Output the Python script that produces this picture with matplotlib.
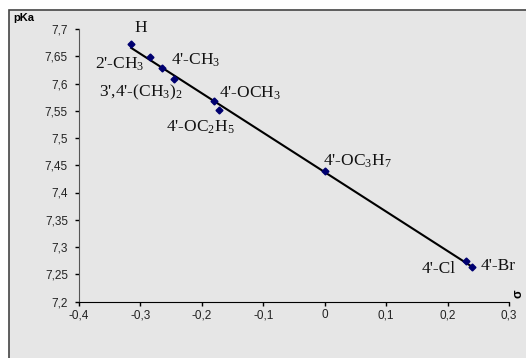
import matplotlib
matplotlib.use('Agg')
import matplotlib.pyplot as plt
from matplotlib.patches import Rectangle
import numpy as np

plt.rcParams['mathtext.fontset'] = 'custom'
plt.rcParams['mathtext.rm'] = 'Liberation Serif'
plt.rcParams['mathtext.it'] = 'Liberation Serif'

# data
sigma = [-0.315, -0.284, -0.265, -0.245, -0.181, -0.172, 0.0, 0.23, 0.24]
pka = [7.672, 7.649, 7.629, 7.609, 7.568, 7.551, 7.439, 7.274, 7.263]

# labels and where they sit (data coords, left edge / baseline)
labels = ['H', "2'-CH$_3$", "4'-CH$_3$", "3',4'-(CH$_3$)$_2$", "4'-OCH$_3$",
          "4'-OC$_2$H$_5$", "4'-OC$_3$H$_7$", "4'-Cl", "4'-Br"]
label_x = [-0.309, -0.374, -0.250, -0.367, -0.172, -0.258, -0.003, 0.158, 0.2545]
label_y = [7.694, 7.628, 7.634, 7.576, 7.574, 7.512, 7.450, 7.253, 7.257]

xticks = [-0.4, -0.3, -0.2, -0.1, 0, 0.1, 0.2, 0.3]
xtick_labels = ['-0,4', '-0,3', '-0,2', '-0,1', '0', '0,1', '0,2', '0,3']
yticks = [7.2, 7.25, 7.3, 7.35, 7.4, 7.45, 7.5, 7.55, 7.6, 7.65, 7.7]
ytick_labels = ['7,2', '7,25', '7,3', '7,35', '7,4', '7,45', '7,5',
                '7,55', '7,6', '7,65', '7,7']

bg = '#e6e6e6'
fig = plt.figure(figsize=(5.26, 3.58), dpi=100, facecolor='white')
# chart area with dark border on top and left
fig.patches.append(Rectangle((9 / 526, -0.1), 1.2, 1 - 10 / 358 + 0.1,
                             transform=fig.transFigure, facecolor=bg,
                             edgecolor='#444444', linewidth=1.2, zorder=-10))

ax = fig.add_axes([79 / 526, 1 - 301.5 / 358, 430 / 526, 272.5 / 358])
ax.set_facecolor(bg)

# regression line
k, b = np.polyfit(sigma, pka, 1)
xs = np.array([min(sigma), max(sigma)])
ax.plot(xs, k * xs + b, color='black', linewidth=1.5, zorder=2)
ax.plot(sigma, pka, linestyle='none', marker='D', markersize=3.5,
        color='#000070', zorder=3)

for t, x, y in zip(labels, label_x, label_y):
    ax.text(x, y, t, fontsize=12.5, family='Liberation Serif', va='baseline',
            ha='left', color='#111111')

ax.set_xlim(-0.4, 0.3)
ax.set_ylim(7.2, 7.7)
ax.set_xticks(xticks)
ax.set_xticklabels(xtick_labels)
ax.set_yticks(yticks)
ax.set_yticklabels(ytick_labels)
for lab in ax.get_xticklabels() + ax.get_yticklabels():
    lab.set_family('Liberation Sans')
    lab.set_fontsize(8.5)
    lab.set_color('#222222')
ax.tick_params(axis='y', direction='out', length=3, pad=5, width=1)
ax.tick_params(axis='x', direction='out', length=3, pad=2.5, width=1)

for s in ['top', 'right']:
    ax.spines[s].set_visible(False)
ax.spines['left'].set_color('#555555')
ax.spines['bottom'].set_color('black')

fig.text(13 / 526, 1 - 18 / 358, 'pKa', fontsize=8, fontweight='bold',
         family='Liberation Sans', va='center', ha='left')
fig.text(518 / 526, 1 - 294 / 358, 'σ', fontsize=9, fontweight='bold',
         family='Liberation Sans', rotation=90, va='center', ha='center')

fig.savefig('out.png', dpi=100, facecolor=fig.get_facecolor())
